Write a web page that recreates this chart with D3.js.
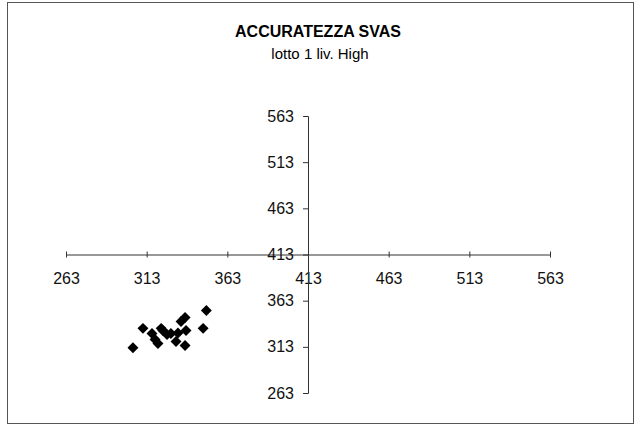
<!DOCTYPE html>
<html lang="en">
<head>
  <meta charset="utf-8">
  <title>ACCURATEZZA SVAS</title>
  <script src="https://d3js.org/d3.v7.min.js"></script>
</head>
<style>
body { margin: 0; background: white; }
.title { font: bold 16px "Liberation Sans", Arial, sans-serif; fill: black; }
.subtitle { font: 15px "Liberation Sans", Arial, sans-serif; fill: black; }
.axis text { font: 16px "Liberation Sans", Arial, sans-serif; fill: #111; }
.axis path, .axis line { stroke: #333; }
</style>
<body>
<div class="chart"></div>
<script>
var width = 636, height = 427;

var titleText = "ACCURATEZZA SVAS";
var subtitleText = "lotto 1 liv. High";
var tickValues = [263, 313, 363, 413, 463, 513, 563];
// punti
var xValues = [304.5, 310.7, 316.3, 318.2, 320.0, 322.0, 323.0, 325.6, 328.0, 331.2, 332.4, 334.3, 336.8, 337.4, 336.8, 348.0, 350.0];
var yValues = [312.0, 333.0, 327.5, 321.0, 316.6, 333.0, 330.7, 326.4, 327.5, 318.8, 328.0, 340.4, 344.8, 330.7, 314.4, 333.0, 352.4];

var svg = d3.select(".chart").append("svg")
  .attr("width", width)
  .attr("height", height);

// cornice
svg.append("rect")
  .attr("x", 7.5).attr("y", 2.5)
  .attr("width", 626).attr("height", 421)
  .attr("fill", "white")
  .attr("stroke", "#555")
  .attr("stroke-width", 1);

svg.append("text").attr("class", "title")
  .attr("x", 318).attr("y", 37)
  .attr("text-anchor", "middle")
  .text(titleText);
svg.append("text").attr("class", "subtitle")
  .attr("x", 320).attr("y", 59)
  .attr("text-anchor", "middle")
  .text(subtitleText);

var x = d3.scaleLinear().domain([263, 563]).range([66, 550]);
var y = d3.scaleLinear().domain([263, 563]).range([393, 116]);

var xAxis = svg.append("g").attr("class", "axis")
  .attr("transform", "translate(0," + y(413) + ")")
  .call(d3.axisBottom(x).tickValues(tickValues).tickSize(3).tickSizeOuter(0).tickPadding(15).tickFormat(d3.format("d")));
xAxis.selectAll(".tick line").attr("y1", -3);

var yAxis = svg.append("g").attr("class", "axis")
  .attr("transform", "translate(" + x(413) + ",0)")
  .call(d3.axisLeft(y).tickValues(tickValues).tickSize(5).tickSizeOuter(5).tickPadding(9).tickFormat(d3.format("d")));

var points = xValues.map(function(d, i) { return {x: d, y: yValues[i]}; });
var diamond = d3.symbol().type(d3.symbolSquare).size(60);

svg.selectAll(".pt")
  .data(points)
  .enter()
  .append("path")
  .attr("class", "pt")
  .attr("d", diamond)
  .attr("fill", "black")
  .attr("transform", function(d) {
    return "translate(" + x(d.x) + "," + y(d.y) + ") rotate(45)";
  });
</script>
</body>
</html>
